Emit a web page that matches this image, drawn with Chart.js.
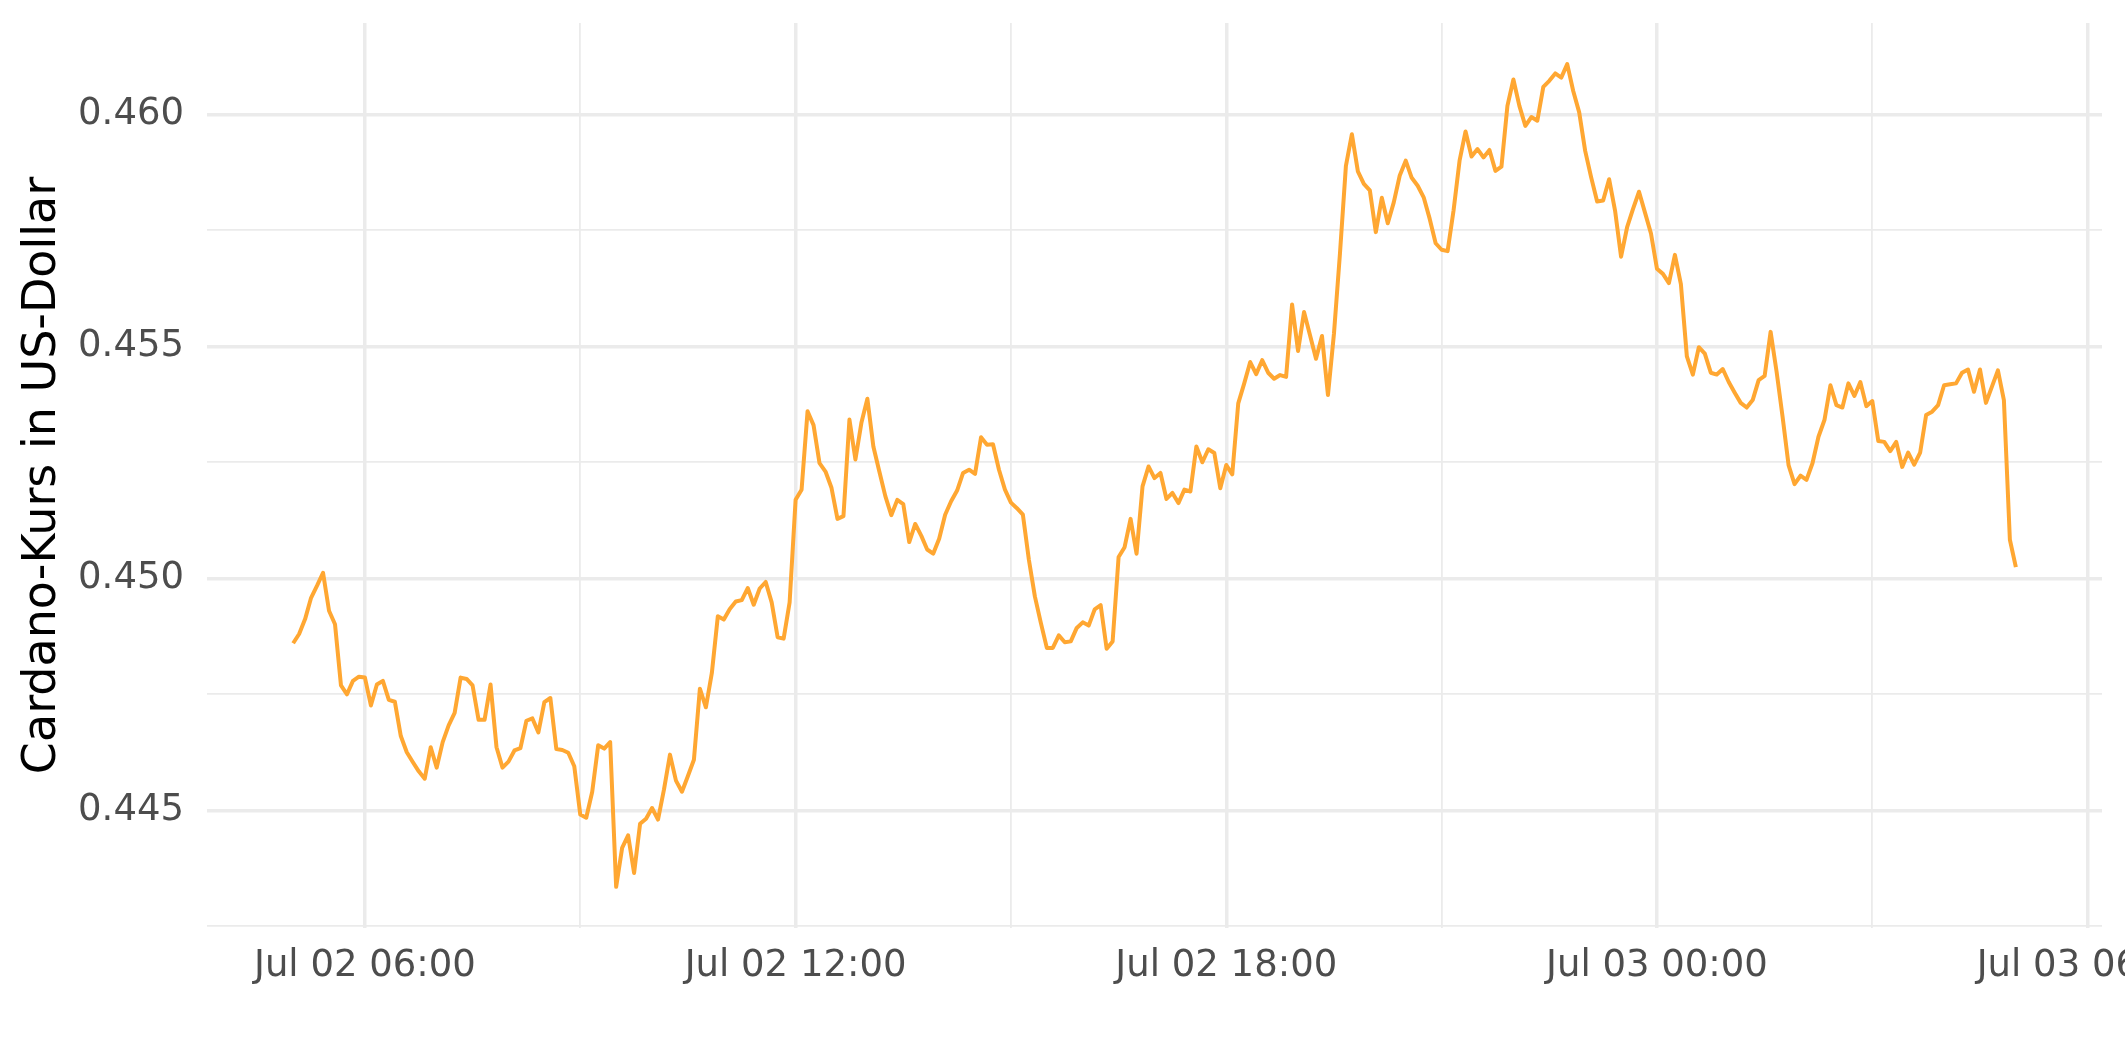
<!DOCTYPE html>
<html>
<head>
<meta charset="utf-8">
<title>Cardano-Kurs</title>
<script src="https://cdn.jsdelivr.net/npm/chart.js"></script>
<style>
  html, body { margin: 0; padding: 0; background: #ffffff; }
  #myChart { display: block; }
</style>
</head>
<body>
<canvas id="myChart" width="2125" height="1062"></canvas>
<script>
// Cardano price, 5-minute steps from Jul 02 05:00 to Jul 03 05:00
const startHour = 5;        // hours after Jul 02 00:00
const stepMinutes = 5;

const prices = [
  0.44860, 0.44880, 0.44912, 0.44958, 0.44984, 0.45012, 0.44930, 0.44901, 0.44769, 0.44750,
  0.44779, 0.44788, 0.44786, 0.44726, 0.44771, 0.44779, 0.44738, 0.44734, 0.44660, 0.44625,
  0.44604, 0.44584, 0.44568, 0.44636, 0.44592, 0.44647, 0.44683, 0.44710, 0.44786, 0.44783,
  0.44769, 0.44695, 0.44695, 0.44771, 0.44636, 0.44592, 0.44605, 0.44629, 0.44634, 0.44693,
  0.44698, 0.44668, 0.44733, 0.44742, 0.44632, 0.44630, 0.44624, 0.44595, 0.44491, 0.44484,
  0.44540, 0.44640, 0.44633, 0.44647, 0.44335, 0.44419, 0.44446, 0.44365, 0.44471, 0.44482,
  0.44505, 0.44480, 0.44545, 0.44620, 0.44564, 0.44540, 0.44574, 0.44609, 0.44762, 0.44722,
  0.44796, 0.44918, 0.44911, 0.44934, 0.44950, 0.44953, 0.44979, 0.44943, 0.44978, 0.44992,
  0.44948, 0.44873, 0.44870, 0.44948, 0.45169, 0.45191, 0.45360, 0.45330, 0.45248, 0.45230,
  0.45195, 0.45128, 0.45134, 0.45342, 0.45256, 0.45335, 0.45387, 0.45284, 0.45230, 0.45177,
  0.45136, 0.45169, 0.45160, 0.45078, 0.45117, 0.45092, 0.45062, 0.45053, 0.45085, 0.45137,
  0.45166, 0.45189, 0.45227, 0.45234, 0.45225, 0.45304, 0.45288, 0.45289, 0.45234, 0.45191,
  0.45163, 0.45151, 0.45137, 0.45040, 0.44961, 0.44904, 0.44850, 0.44850, 0.44877, 0.44862,
  0.44864, 0.44893, 0.44905, 0.44898, 0.44933, 0.44942, 0.44848, 0.44864, 0.45046, 0.45067,
  0.45128, 0.45053, 0.45198, 0.45241, 0.45216, 0.45227, 0.45171, 0.45184, 0.45162, 0.45191,
  0.45187, 0.45284, 0.45250, 0.45278, 0.45270, 0.45194, 0.45244, 0.45224, 0.45377, 0.45420,
  0.45466, 0.45440, 0.45470, 0.45443, 0.45430, 0.45438, 0.45434, 0.45590, 0.45490, 0.45574,
  0.45524, 0.45473, 0.45522, 0.45395, 0.45527, 0.45699, 0.45889, 0.45957, 0.45877, 0.45850,
  0.45836, 0.45746, 0.45820, 0.45765, 0.45810, 0.45868, 0.45900, 0.45863, 0.45846, 0.45821,
  0.45775, 0.45722, 0.45708, 0.45705, 0.45793, 0.45900, 0.45963, 0.45909, 0.45925, 0.45907,
  0.45923, 0.45878, 0.45887, 0.46018, 0.46075, 0.46018, 0.45975, 0.45994, 0.45986, 0.46059,
  0.46072, 0.46088, 0.46079, 0.46108, 0.46050, 0.46004, 0.45921, 0.45864, 0.45812, 0.45814,
  0.45860, 0.45792, 0.45693, 0.45756, 0.45796, 0.45833, 0.45788, 0.45743, 0.45667, 0.45656,
  0.45636, 0.45697, 0.45634, 0.45478, 0.45439, 0.45498, 0.45484, 0.45443, 0.45439, 0.45451,
  0.45423, 0.45400, 0.45378, 0.45368, 0.45384, 0.45427, 0.45436, 0.45531, 0.45445, 0.45348,
  0.45244, 0.45203, 0.45221, 0.45212, 0.45248, 0.45305, 0.45341, 0.45416, 0.45373, 0.45368,
  0.45420, 0.45393, 0.45423, 0.45371, 0.45382, 0.45296, 0.45294, 0.45274, 0.45294, 0.45240,
  0.45271, 0.45245, 0.45271, 0.45352, 0.45359, 0.45373, 0.45416, 0.45418, 0.45420, 0.45443,
  0.45450, 0.45402, 0.45450, 0.45378, 0.45413, 0.45448, 0.45384, 0.45083, 0.45024
];

// axis ticks (x in hours after Jul 02 00:00)
const xMajorHours = [6, 12, 18, 24, 30];
const xMajorLabels = ['Jul 02 06:00', 'Jul 02 12:00', 'Jul 02 18:00', 'Jul 03 00:00', 'Jul 03 06:00'];
const xMinorHours = [9, 15, 21, 27];
const yMajorTicks = [0.445, 0.450, 0.455, 0.460];
const yMinorTicks = [0.4425, 0.4475, 0.4525, 0.4575];

const yTitle = 'Cardano-Kurs in US-Dollar';
const lineColor = 'rgb(255, 167, 50)';
const gridColor = '#EBEBEB';
const tickColor = '#4D4D4D';

const points = prices.map(function(p, i) {
  return { x: startHour + i * stepMinutes / 60, y: p };
});

// ggplot style 5% expansion
const xFirst = points[0].x, xLast = points[points.length - 1].x;
const xPad = (xLast - xFirst) * 0.05;
const yMin = Math.min(...prices), yMax = Math.max(...prices);
const yPad = (yMax - yMin) * 0.05;

const isMajor = function(list, v) {
  return list.some(function(m) { return Math.abs(m - v) < 1e-9; });
};

const config = {
  type: 'line',
  data: {
    datasets: [{
      data: points,
      borderColor: lineColor,
      borderWidth: 4,
      pointRadius: 0,
      tension: 0,
      fill: false,
      borderJoinStyle: 'round'
    }]
  },
  options: {
    responsive: false,
    animation: false,
    layout: { padding: { top: 23, right: 23, left: 0, bottom: 0 } },
    plugins: {
      legend: { display: false },
      tooltip: { enabled: false }
    },
    scales: {
      x: {
        type: 'linear',
        min: xFirst - xPad,
        max: xLast + xPad,
        afterBuildTicks: function(axis) {
          axis.ticks = xMajorHours.concat(xMinorHours).sort(function(a, b) { return a - b; })
            .map(function(v) { return { value: v }; });
        },
        afterFit: function(scale) {
          scale.height = 134;
          scale.paddingLeft = 0;
          scale.paddingRight = 0;
        },
        border: { display: false },
        grid: {
          color: gridColor,
          drawTicks: false,
          lineWidth: function(ctx) {
            return ctx.tick && isMajor(xMajorHours, ctx.tick.value) ? 3.5 : 1.8;
          }
        },
        ticks: {
          autoSkip: false,
          maxRotation: 0,
          padding: 16,
          color: tickColor,
          font: { family: 'DejaVu Sans', size: 37 },
          callback: function(v) {
            const k = xMajorHours.findIndex(function(h) { return Math.abs(h - v) < 1e-9; });
            return k >= 0 ? xMajorLabels[k] : '';
          }
        }
      },
      y: {
        type: 'linear',
        min: yMin - yPad,
        max: yMax + yPad,
        afterBuildTicks: function(axis) {
          axis.ticks = yMinorTicks.concat(yMajorTicks).sort(function(a, b) { return a - b; })
            .map(function(v) { return { value: v }; });
        },
        afterFit: function(scale) {
          scale.width = 207;
          scale.paddingTop = 0;
          scale.paddingBottom = 0;
        },
        border: { display: false },
        grid: {
          color: gridColor,
          drawTicks: false,
          lineWidth: function(ctx) {
            return ctx.tick && isMajor(yMajorTicks, ctx.tick.value) ? 3.5 : 1.8;
          }
        },
        ticks: {
          autoSkip: false,
          padding: 23,
          color: tickColor,
          font: { family: 'DejaVu Sans', size: 37 },
          callback: function(v) {
            return isMajor(yMajorTicks, v) ? v.toFixed(3) : '';
          }
        },
        title: {
          display: true,
          text: yTitle,
          color: '#000000',
          font: { family: 'DejaVu Sans', size: 46 },
          padding: { top: 15, bottom: 0 }
        }
      }
    }
  }
};

const myChart = new Chart(document.getElementById('myChart'), config);
</script>
</body>
</html>
